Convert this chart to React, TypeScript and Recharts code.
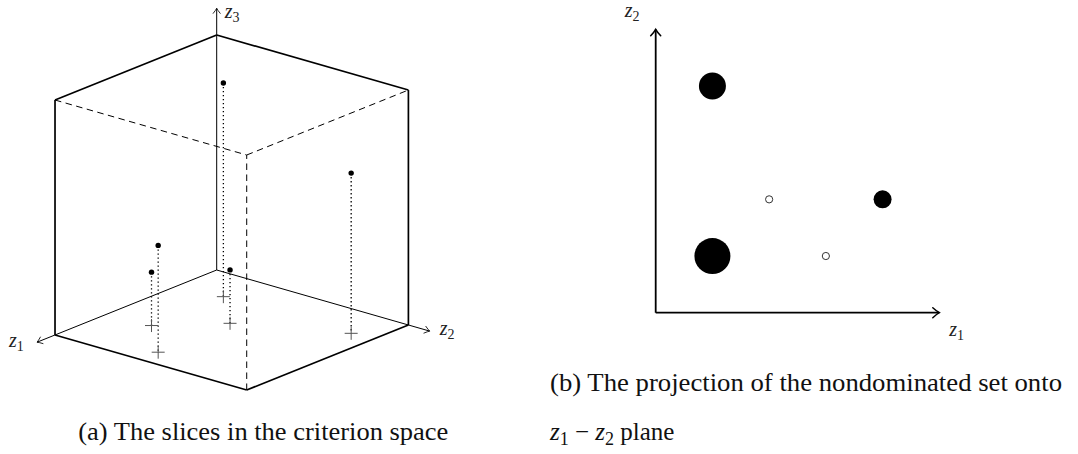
import React from "react";
import { ScatterChart, Scatter, XAxis, YAxis, ReferenceLine } from "recharts";

// criterion vectors (z1, z2, z3) of the nondominated points
const z1Values = [1, 4, 3, 2, 1];
const z2Values = [1, 2, 1, 2, 4];
const z3Values = [4, 2, 1, 1, 3];
// points drawn as hollow markers in the z1-z2 projection
const hollowFlags = [false, false, true, true, false];

const captionA = "(a) The slices in the criterion space";
const captionB = "(b) The projection of the nondominated set onto";

// box and axis extents of the criterion space
const BOX = [4.5, 4.5, 4.4];
const AXIS_LEN = [5, 5, 4.9];
const PLANE_MAX = 5;

// oblique view: screen offset (x right, y up) of one unit along each criterion
const E1 = [-35.93, -14.44];
const E2 = [42.6, -12.22];
const E3 = [0, 53.4];

const project = (z1: number, z2: number, z3: number) => ({
  x: E1[0] * z1 + E2[0] * z2 + E3[0] * z3,
  y: E1[1] * z1 + E2[1] * z2 + E3[1] * z3,
});

const points = z1Values.map((z1, i) => ({
  z1,
  z2: z2Values[i],
  z3: z3Values[i],
  hollow: hollowFlags[i],
}));

const tops = points.map((p) => project(p.z1, p.z2, p.z3));
const feet = points.map((p) => project(p.z1, p.z2, 0));
const planePoints = points.map((p) => ({ x: p.z1, y: p.z2, z: p.z3, hollow: p.hollow }));

const SERIF = "Liberation Serif, Times New Roman, serif";

function MathLabel({ x, y, sub, size = 20 }: { x: number; y: number; sub: string; size?: number }) {
  return (
    <text x={x} y={y} style={{ fontFamily: SERIF, fontSize: size }} fill="#222">
      <tspan style={{ fontStyle: "italic" }}>z</tspan>
      <tspan style={{ fontSize: size * 0.7 }} dy={size * 0.2}>
        {sub}
      </tspan>
    </text>
  );
}

function arrowShape(width: number, head: number, spread: number, sub: string, dx: number, dy: number) {
  return (p: any) => {
    const { x1, y1, x2, y2 } = p;
    const len = Math.hypot(x2 - x1, y2 - y1) || 1;
    const ux = (x2 - x1) / len;
    const uy = (y2 - y1) / len;
    const nx = -uy;
    const ny = ux;
    const bx = x2 - ux * head;
    const by = y2 - uy * head;
    const cx = x2 - ux * head * 0.35;
    const cy = y2 - uy * head * 0.35;
    const d =
      `M${bx + nx * spread},${by + ny * spread} ` +
      `Q${cx + nx * spread * 0.25},${cy + ny * spread * 0.25} ${x2},${y2} ` +
      `Q${cx - nx * spread * 0.25},${cy - ny * spread * 0.25} ${bx - nx * spread},${by - ny * spread}`;
    return (
      <g>
        <line x1={x1} y1={y1} x2={x2} y2={y2} stroke="#000" strokeWidth={width} />
        <path d={d} fill="none" stroke="#000" strokeWidth={width * 0.85} strokeLinecap="round" />
        <MathLabel x={x2 + dx} y={y2 + dy} sub={sub} />
      </g>
    );
  };
}

const [a, b, c] = BOX;
const V = {
  O: project(0, 0, 0),
  A: project(a, 0, 0),
  B: project(0, b, 0),
  C: project(a, b, 0),
  Ot: project(0, 0, c),
  At: project(a, 0, c),
  Bt: project(0, b, c),
  Ct: project(a, b, c),
};

const frontEdges = [
  [V.A, V.C],
  [V.C, V.B],
  [V.A, V.At],
  [V.B, V.Bt],
  [V.At, V.Ot],
  [V.Ot, V.Bt],
];
const hiddenEdges = [
  [V.At, V.Ct],
  [V.Ct, V.Bt],
  [V.C, V.Ct],
];

const crossShape = (p: any) => (
  <g stroke="#555" strokeWidth={1}>
    <line x1={p.cx - 6.5} y1={p.cy} x2={p.cx + 6.5} y2={p.cy} />
    <line x1={p.cx} y1={p.cy - 6.5} x2={p.cx} y2={p.cy + 6.5} />
  </g>
);

const dotShape = (p: any) => <circle cx={p.cx} cy={p.cy} r={2.7} fill="#000" />;

const bubbleShape = (p: any) =>
  p.payload.hollow ? (
    <circle cx={p.cx} cy={p.cy} r={3.6} fill="#fff" stroke="#333" strokeWidth={1} />
  ) : (
    <circle cx={p.cx} cy={p.cy} r={4.5 * p.payload.z} fill="#000" />
  );

function CriterionCube() {
  return (
    <ScatterChart width={530} height={454} margin={{ top: 0, right: 0, bottom: 0, left: 0 }}>
      <XAxis type="number" dataKey="x" hide domain={[-216.7, 313.3]} allowDataOverflow />
      <YAxis type="number" dataKey="y" hide domain={[-184, 270]} allowDataOverflow />
      {/* criterion axes */}
      <ReferenceLine
        segment={[V.O, project(AXIS_LEN[0], 0, 0)]}
        ifOverflow="visible"
        shape={arrowShape(1, 5, 3.5, "1", -28, 5)}
      />
      <ReferenceLine
        segment={[V.O, project(0, AXIS_LEN[1], 0)]}
        ifOverflow="visible"
        shape={arrowShape(1, 5, 3.5, "2", 10, 4)}
      />
      <ReferenceLine
        segment={[V.O, project(0, 0, AXIS_LEN[2])]}
        ifOverflow="visible"
        shape={arrowShape(1, 5, 3.5, "3", 8, 10)}
      />
      {hiddenEdges.map((e, i) => (
        <ReferenceLine
          key={`h${i}`}
          segment={e}
          ifOverflow="visible"
          stroke="#000"
          strokeWidth={1}
          strokeDasharray="6.5 4.5"
        />
      ))}
      {frontEdges.map((e, i) => (
        <ReferenceLine key={`f${i}`} segment={e} ifOverflow="visible" stroke="#000" strokeWidth={1.7} />
      ))}
      {/* drop lines from each point to the z1-z2 floor */}
      {tops.map((t, i) => (
        <ReferenceLine
          key={`d${i}`}
          segment={[t, feet[i]]}
          ifOverflow="visible"
          stroke="#000"
          strokeWidth={1.3}
          strokeDasharray="1.3 2.7"
        />
      ))}
      <Scatter data={feet} shape={crossShape} isAnimationActive={false} />
      <Scatter data={tops} shape={dotShape} isAnimationActive={false} />
    </ScatterChart>
  );
}

function PlaneProjection() {
  return (
    <ScatterChart width={548} height={454} margin={{ top: 29.3, right: 138.7, bottom: 141.3, left: 125.7 }}>
      <XAxis type="number" dataKey="x" hide domain={[0, PLANE_MAX]} allowDataOverflow />
      <YAxis type="number" dataKey="y" hide domain={[0, PLANE_MAX]} allowDataOverflow />
      <ReferenceLine
        segment={[{ x: 0, y: 0 }, { x: PLANE_MAX, y: 0 }]}
        ifOverflow="visible"
        shape={arrowShape(1.8, 6.5, 5, "1", 10, 23)}
      />
      <ReferenceLine
        segment={[{ x: 0, y: 0 }, { x: 0, y: PLANE_MAX }]}
        ifOverflow="visible"
        shape={arrowShape(1.8, 6.5, 5, "2", -31, -12)}
      />
      <Scatter data={planePoints} shape={bubbleShape} isAnimationActive={false} />
    </ScatterChart>
  );
}

const captionStyle = { fontFamily: SERIF, fontSize: 25 };

export default function App() {
  return (
    <div style={{ position: "absolute", left: 0, top: 0, width: 1078, height: 454, background: "#fff" }}>
      <div style={{ position: "absolute", left: 0, top: 0 }}>
        <CriterionCube />
      </div>
      <div style={{ position: "absolute", left: 530, top: 0 }}>
        <PlaneProjection />
      </div>
      <svg width={1078} height={454} style={{ position: "absolute", left: 0, top: 0, pointerEvents: "none" }}>
        <g fill="#111">
          <text x={78.3} y={439.5} style={captionStyle} textLength={370} lengthAdjust="spacingAndGlyphs">
            {captionA}
          </text>
          <text x={550} y={390.7} style={captionStyle} textLength={512} lengthAdjust="spacingAndGlyphs">
            {captionB}
          </text>
          <text x={550} y={439.5} style={captionStyle}>
            <tspan style={{ fontStyle: "italic" }}>z</tspan>
            <tspan style={{ fontSize: 18 }} dy={5}>1</tspan>
            <tspan dy={-5}> − </tspan>
            <tspan style={{ fontStyle: "italic" }}>z</tspan>
            <tspan style={{ fontSize: 18 }} dy={5}>2</tspan>
            <tspan dy={-5}> plane</tspan>
          </text>
        </g>
      </svg>
    </div>
  );
}
